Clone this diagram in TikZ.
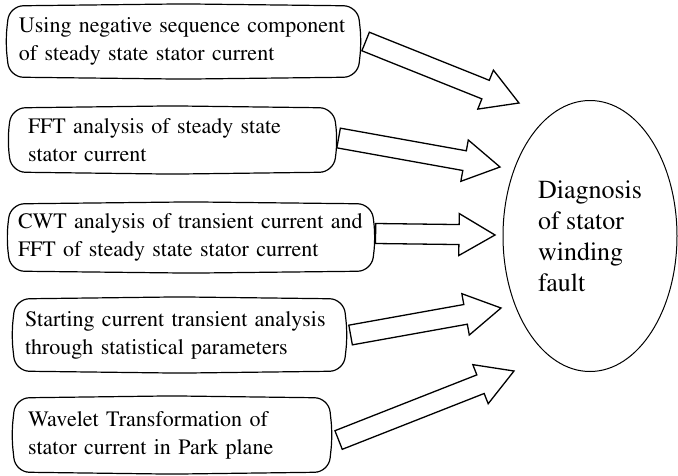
\documentclass[tikz,border=0pt]{standalone}
\usepackage[T1]{fontenc}
\usepackage{mathptmx}
\usetikzlibrary{calc,shapes.geometric}

% hollow block arrow from #1 to the tip #2
\newcommand\blockarrow[2]{%
 \coordinate (hb) at ($(#2)!36pt!(#1)$);
 \draw[fat] ($(#1)!10pt!90:(#2)$) -- ($(hb)!10pt!-90:(#1)$) -- ($(hb)!21pt!-90:(#1)$)
  -- (#2) -- ($(hb)!21pt!90:(#1)$) -- ($(hb)!10pt!90:(#1)$) -- ($(#1)!10pt!-90:(#2)$) -- cycle;}

\begin{document}
\begin{tikzpicture}[x=1pt,y=-1pt,line width=1.2pt,
 method/.style={align=left,inner ysep=0pt,font=\fontsize{22}{28}\selectfont},
 pill/.style={draw,rounded corners=14pt},
 fat/.style={draw,line width=1.3pt,line join=miter}]
\useasboundingbox (0,0) rectangle (678,475);
\node[method,inner xsep=9pt,text width=329pt,minimum height=70pt] (m1) at (183.5,41.5)
 {Using negative sequence component\\of steady state stator current};
\node[method,inner xsep=16pt,text width=289pt,minimum height=63pt] (m2) at (172.5,140)
 {FFT analysis of steady state\\stator current};
\node[method,inner xsep=7pt,text width=346pt,minimum height=66pt] (m3) at (191,237.5)
 {CWT analysis of transient current and\\FFT of steady state stator current};
\node[method,inner xsep=9pt,text width=309pt,minimum height=71pt] (m4) at (179.5,335)
 {Starting current transient analysis\\through statistical parameters};
\node[method,inner xsep=12pt,text width=288pt,minimum height=73pt] (m5) at (172,435)
 {Wavelet Transformation of\\stator current in Park plane};
\node[ellipse,draw,line width=1pt,minimum width=174pt,minimum height=271pt,align=left,
 font=\fontsize{26}{31}\selectfont] (diag) at (590,236)
 {Diagnosis\\of stator\\winding\\fault};

% box outlines with slightly bulging sides
\foreach \m in {m1,m2,m3,m4,m5}
 \draw[pill] (\m.north west) -- ([yshift=2pt]\m.north) -- (\m.north east)
  -- ([xshift=4pt]\m.east) -- (\m.south east) -- ([yshift=-2pt]\m.south)
  -- (\m.south west) -- ([xshift=-4pt]\m.west) -- cycle;

% arrow tips in front of the ellipse
\coordinate (tip1) at (519,103);
\coordinate (tip2) at (500,167);
\coordinate (tip3) at (495,235);
\coordinate (tip4) at (501,308);
\coordinate (tip5) at (514,371);

\blockarrow{[xshift=8pt]m1.east}{tip1}
\blockarrow{[xshift=5pt,yshift=2pt]m2.east}{tip2}
\blockarrow{[xshift=4pt,yshift=4pt]m3.east}{tip3}
\blockarrow{[xshift=7pt]m4.east}{tip4}
\blockarrow{[xshift=10pt,yshift=-5pt]m5.east}{tip5}
\end{tikzpicture}
\end{document}
